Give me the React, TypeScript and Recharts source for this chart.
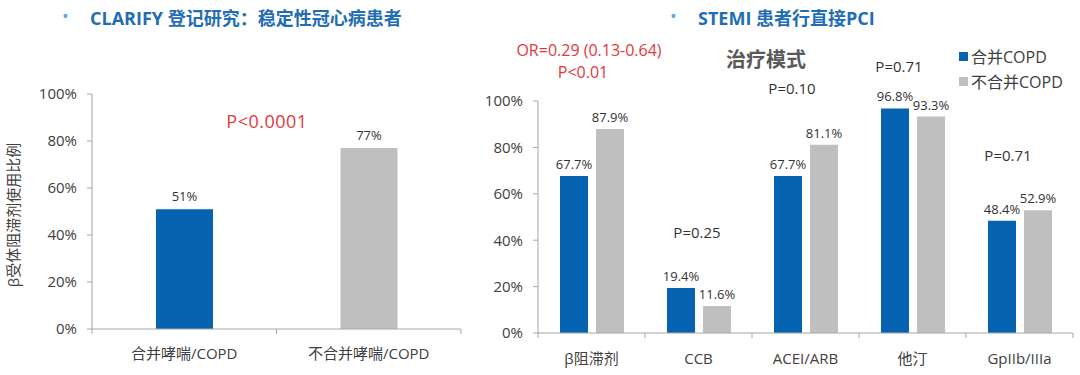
import { BarChart, Bar, XAxis, YAxis, Cell, LabelList } from "recharts";

const leftCategories = ["合并哮喘/COPD", "不合并哮喘/COPD"];
const leftValues = [51, 77];

const rightCategories = ["β阻滞剂", "CCB", "ACEI/ARB", "他汀", "GpIIb/IIIa"];
const withCopd = [67.7, 19.4, 67.7, 96.8, 48.4];
const withoutCopd = [87.9, 11.6, 81.1, 93.3, 52.9];
const seriesNames = ["合并COPD", "不合并COPD"];

const yTicks = [0, 20, 40, 60, 80, 100];

const BLUE = "#0563b1";
const GREY = "#bfbfbf";
const RED = "#e0393e";
const FONT = "'Open Sans', 'Noto Sans CJK SC', sans-serif";

const leftData = leftCategories.map((name, i) => ({ name, value: leftValues[i] }));
const rightData = rightCategories.map((name, i) => ({
  name,
  copd: withCopd[i],
  noCopd: withoutCopd[i],
}));

// category label in the middle, small tick marks on the band edges
const CatTick = (props: any) => {
  const { x, y, payload, index, visibleTicksCount, textDy } = props;
  const half = payload.offset ?? 0;
  const last = index === visibleTicksCount - 1;
  return (
    <g>
      <line x1={x - half} x2={x - half} y1={y} y2={y + 5} stroke="#a6a6a6" />
      {last && <line x1={x + half} x2={x + half} y1={y} y2={y + 5} stroke="#a6a6a6" />}
      <text
        x={x}
        y={y + textDy}
        textAnchor="middle"
        dominantBaseline="central"
        fontSize={15}
        fill="#404040"
        fontFamily={FONT}
      >
        {payload.value}
      </text>
    </g>
  );
};

const pct = (v: any) => `${v}%`;

const abs = (x: number, y: number, extra: React.CSSProperties = {}): React.CSSProperties => ({
  position: "absolute",
  left: x,
  top: y,
  transform: "translate(-50%, -50%)",
  whiteSpace: "nowrap",
  fontFamily: FONT,
  ...extra,
});

const titleStyle: React.CSSProperties = {
  position: "absolute",
  top: 4,
  fontFamily: FONT,
  fontWeight: 700,
  fontSize: 18,
  color: "#1f6db5",
  whiteSpace: "nowrap",
};

const labelStyle = { fontSize: 13, fill: "#333", fontFamily: FONT };
const yTickStyle = { fontSize: 15, fill: "#404040", fontFamily: FONT };

export default function App() {
  return (
    <div
      style={{
        position: "fixed",
        left: 0,
        top: 0,
        width: 1080,
        height: 375,
        background: "#fff",
        fontFamily: FONT,
      }}
    >
      <div style={{ ...titleStyle, left: 62, color: "#6aa6d6", fontWeight: 400 }}>•</div>
      <div style={{ ...titleStyle, left: 90 }}>CLARIFY 登记研究：稳定性冠心病患者</div>
      <div style={{ ...titleStyle, left: 670, color: "#6aa6d6", fontWeight: 400 }}>•</div>
      <div style={{ ...titleStyle, left: 698 }}>STEMI 患者行直接PCI</div>

      <div style={{ position: "absolute", left: 0, top: 0 }}>
        <BarChart
          width={480}
          height={375}
          data={leftData}
          margin={{ top: 94, right: 19, bottom: 16, left: 0 }}
          barCategoryGap={64}
        >
          <XAxis
            dataKey="name"
            axisLine={{ stroke: "#a6a6a6" }}
            tickLine={false}
            tickSize={0}
            tickMargin={0}
            height={30}
            interval={0}
            tick={<CatTick textDy={24} />}
          />
          <YAxis
            width={92}
            domain={[0, 100]}
            ticks={yTicks}
            tickFormatter={pct}
            axisLine={{ stroke: "#a6a6a6" }}
            tickLine={{ stroke: "#a6a6a6" }}
            tickSize={5}
            tickMargin={10}
            tick={yTickStyle}
          />
          <Bar dataKey="value" isAnimationActive={false}>
            {leftData.map((d, i) => (
              <Cell key={d.name} fill={i === 0 ? BLUE : GREY} />
            ))}
            <LabelList dataKey="value" position="top" offset={8} formatter={pct} style={labelStyle} />
          </Bar>
        </BarChart>
      </div>

      <div
        style={{
          position: "absolute",
          left: 12,
          top: 215,
          transform: "translate(-50%, -50%) rotate(-90deg)",
          fontSize: 15,
          color: "#404040",
          whiteSpace: "nowrap",
        }}
      >
        β受体阻滞剂使用比例
      </div>
      <div style={abs(267, 121, { fontSize: 18, color: RED, letterSpacing: 0.5 })}>P&lt;0.0001</div>

      <div style={{ position: "absolute", left: 470, top: 0 }}>
        <BarChart
          width={610}
          height={375}
          data={rightData}
          margin={{ top: 101, right: 7, bottom: 12, left: 0 }}
          barCategoryGap={22}
          barGap={8}
        >
          <XAxis
            dataKey="name"
            axisLine={{ stroke: "#a6a6a6" }}
            tickLine={false}
            tickSize={0}
            tickMargin={0}
            height={30}
            interval={0}
            tick={<CatTick textDy={25} />}
          />
          <YAxis
            width={68}
            domain={[0, 100]}
            ticks={yTicks}
            tickFormatter={pct}
            axisLine={{ stroke: "#a6a6a6" }}
            tickLine={{ stroke: "#a6a6a6" }}
            tickSize={5}
            tickMargin={10}
            tick={yTickStyle}
          />
          <Bar dataKey="copd" name={seriesNames[0]} fill={BLUE} isAnimationActive={false}>
            <LabelList dataKey="copd" position="top" offset={7} formatter={pct} style={labelStyle} />
          </Bar>
          <Bar dataKey="noCopd" name={seriesNames[1]} fill={GREY} isAnimationActive={false}>
            <LabelList dataKey="noCopd" position="top" offset={7} formatter={pct} style={labelStyle} />
          </Bar>
        </BarChart>
      </div>

      {/* legend */}
      {seriesNames.map((n, i) => (
        <div
          key={n}
          style={{
            position: "absolute",
            left: 959,
            top: 44 + i * 25,
            display: "flex",
            alignItems: "center",
            fontSize: 16,
            color: "#404040",
            whiteSpace: "nowrap",
          }}
        >
          <span style={{ width: 9, height: 9, background: i === 0 ? BLUE : GREY, marginRight: 3 }} />
          {n}
        </div>
      ))}

      <div style={abs(589, 50, { fontSize: 16, color: RED })}>OR=0.29 (0.13-0.64)</div>
      <div style={abs(583, 72, { fontSize: 16, color: RED })}>P&lt;0.01</div>
      <div style={abs(766, 58, { fontSize: 20, fontWeight: 700, color: "#595959" })}>治疗模式</div>
      <div style={abs(792, 88, { fontSize: 15, color: "#333" })}>P=0.10</div>
      <div style={abs(899, 66, { fontSize: 15, color: "#333" })}>P=0.71</div>
      <div style={abs(697, 232, { fontSize: 15, color: "#333" })}>P=0.25</div>
      <div style={abs(1008, 155, { fontSize: 15, color: "#333" })}>P=0.71</div>
    </div>
  );
}
